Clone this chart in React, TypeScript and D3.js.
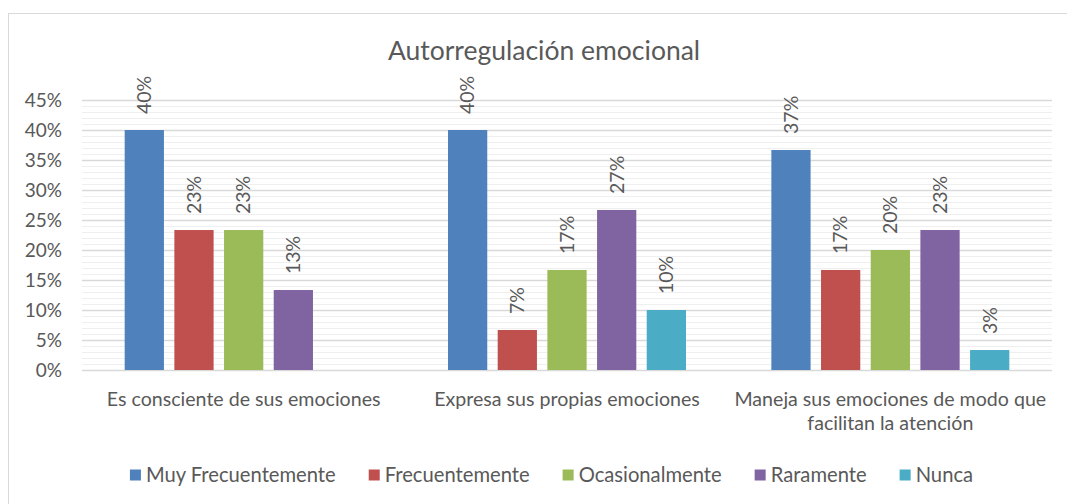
import React, { useEffect, useRef } from "react";
import * as d3 from "d3";

const title = "Autorregulación emocional";
const categories: string[][] = [
  ["Es consciente de sus emociones"],
  ["Expresa sus propias emociones"],
  ["Maneja sus emociones de modo que", "facilitan la atención"],
];
const seriesNames = ["Muy Frecuentemente", "Frecuentemente", "Ocasionalmente", "Raramente", "Nunca"];
const muyFrecuentemente = [40, 40, 36.67];
const frecuentemente = [23.33, 6.67, 16.67];
const ocasionalmente = [23.33, 16.67, 20];
const raramente = [13.33, 26.67, 23.33];
const nunca: (number | null)[] = [null, 10, 3.33];
const seriesValues: (number | null)[][] = [muyFrecuentemente, frecuentemente, ocasionalmente, raramente, nunca];
const seriesColors = ["#4f81bd", "#c0504d", "#9bbb59", "#8064a2", "#4bacc6"];
const yTicks = [0, 5, 10, 15, 20, 25, 30, 35, 40, 45];

const W = 1067;
const H = 504;
const FONT = "Lato, 'Open Sans', sans-serif";
const TEXT = "#595959";

export default function App() {
  const ref = useRef<SVGSVGElement | null>(null);

  useEffect(() => {
    const svg = d3.select(ref.current);
    svg.selectAll("*").remove();

    const left = 82, right = 1052, top = 100, bottom = 370;
    const y = d3.scaleLinear().domain([0, 45]).range([bottom, top]);
    const x0 = d3.scaleBand<number>().domain(d3.range(categories.length)).range([left, right]).padding(0);
    const outer = x0.bandwidth() * 0.132;
    const x1 = d3
      .scaleBand<number>()
      .domain(d3.range(seriesNames.length))
      .range([outer, x0.bandwidth() - outer])
      .paddingInner(0.21)
      .paddingOuter(0);

    // border
    svg.append("rect").attr("x", 8.5).attr("y", 13.5).attr("width", 1080).attr("height", 520)
      .attr("fill", "#fff").attr("stroke", "#d9d9d9").attr("stroke-width", 1);

    // title
    svg.append("text").attr("x", 544).attr("y", 60).attr("text-anchor", "middle")
      .attr("font-family", FONT).attr("font-size", 26.5).attr("fill", TEXT).text(title);

    // minor grid
    const minor = d3.range(0, 46, 1).filter((v) => v % 5 !== 0);
    svg.append("g").selectAll("line").data(minor).join("line")
      .attr("x1", left).attr("x2", right)
      .attr("y1", (d) => Math.round(y(d)) + 0.5).attr("y2", (d) => Math.round(y(d)) + 0.5)
      .attr("stroke", "#efefef").attr("stroke-width", 1);
    // major grid
    svg.append("g").selectAll("line").data(yTicks).join("line")
      .attr("x1", left).attr("x2", right)
      .attr("y1", (d) => Math.round(y(d)) + 0.5).attr("y2", (d) => Math.round(y(d)) + 0.5)
      .attr("stroke", "#d9d9d9").attr("stroke-width", 1.3);

    // y tick labels
    svg.append("g").selectAll("text").data(yTicks).join("text")
      .attr("x", 62).attr("y", (d) => y(d)).attr("dy", "0.35em").attr("text-anchor", "end")
      .attr("font-family", FONT).attr("font-size", 19).attr("fill", TEXT)
      .text((d) => `${d}%`);

    // bars
    const groups = svg.append("g").selectAll("g").data(categories.map((_, i) => i)).join("g")
      .attr("transform", (i) => `translate(${x0(i)},0)`);
    groups.each(function (ci) {
      const g = d3.select(this);
      seriesValues.forEach((vals, si) => {
        const v = vals[ci];
        if (v == null) return;
        const bx = x1(si)!;
        const bw = x1.bandwidth();
        g.append("rect").attr("x", bx).attr("y", y(v)).attr("width", bw).attr("height", y(0) - y(v))
          .attr("fill", seriesColors[si]);
        const cx = bx + bw / 2;
        const ly = y(v) - 16;
        g.append("text").attr("transform", `translate(${cx},${ly}) rotate(-90)`)
          .attr("dy", "0.35em").attr("text-anchor", "start")
          .attr("font-family", FONT).attr("font-size", 19.5).attr("fill", TEXT)
          .text(`${Math.round(v)}%`);
      });
    });

    // category labels
    categories.forEach((lines, ci) => {
      const cx = x0(ci)! + x0.bandwidth() / 2;
      lines.forEach((ln, li) => {
        svg.append("text").attr("x", cx).attr("y", 406 + li * 24).attr("text-anchor", "middle")
          .attr("font-family", FONT).attr("font-size", 19.6).attr("fill", TEXT).text(ln);
      });
    });

    // legend
    const lg = svg.append("g");
    const sw = 11, swGap = 5, itemGap = 33;
    const items = seriesNames.map((name, i) => {
      const t = lg.append("text").attr("font-family", FONT).attr("font-size", 20.2).attr("fill", TEXT)
        .attr("y", 475).attr("dy", "0.35em").text(name);
      const w = (t.node() as SVGTextElement).getComputedTextLength();
      return { t, w, i };
    });
    const total = d3.sum(items, (d) => sw + swGap + d.w) + itemGap * (items.length - 1);
    let cx = 551.5 - total / 2;
    items.forEach((it) => {
      lg.append("rect").attr("x", cx).attr("y", 475 - sw / 2).attr("width", sw).attr("height", sw)
        .attr("fill", seriesColors[it.i]);
      it.t.attr("x", cx + sw + swGap);
      cx += sw + swGap + it.w + itemGap;
    });
  }, []);

  return (
    <svg ref={ref} width={W} height={H}
      style={{ position: "absolute", left: 0, top: 0, display: "block", background: "#fff" }} />
  );
}
